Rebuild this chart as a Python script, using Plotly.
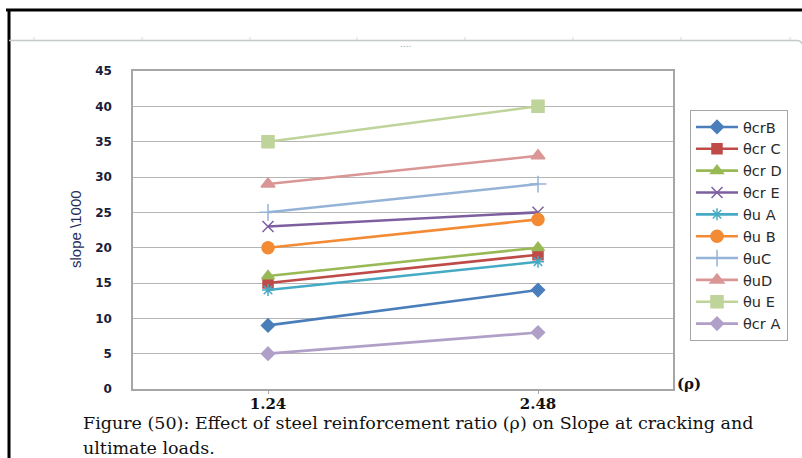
import plotly.graph_objects as go

# Reinforcement ratio categories on the x axis
rho_labels = ["1.24", "2.48"]

# Slope values (per 1000) at cracking (θcr) and ultimate (θu) loads
theta_cr_B = [9, 14]
theta_cr_C = [15, 19]
theta_cr_D = [16, 20]
theta_cr_E = [23, 25]
theta_u_A = [14, 18]
theta_u_B = [20, 24]
theta_u_C = [25, 29]
theta_u_D = [29, 33]
theta_u_E = [35, 40]
theta_cr_A = [5, 8]

series_names = ["θcrB", "θcr C", "θcr D", "θcr E", "θu A",
                "θu B", "θuC", "θuD", "θu E", "θcr A"]
series_values = [theta_cr_B, theta_cr_C, theta_cr_D, theta_cr_E, theta_u_A,
                 theta_u_B, theta_u_C, theta_u_D, theta_u_E, theta_cr_A]
series_colors = ["#4A7EBB", "#BE4B48", "#98B954", "#7D5FA0", "#46AAC5",
                 "#F38A34", "#95B3D7", "#D99694", "#BFD49A", "#B0A0C8"]
series_symbols = ["diamond", "square", "triangle-up", "x-thin-open", "asterisk-open",
                  "circle", "cross-thin-open", "triangle-up", "square", "diamond"]
series_sizes = [10, 10, 11, 11, 10, 12, 12, 12, 12, 10]

W, H = 802, 458
L, R, T, B = 133, 673, 71, 389

SERIF = "DejaVu Serif, Liberation Serif, serif"


def px(x):
    return (x - L) / (R - L)


def py(y):
    return (B - y) / (B - T)


fig = go.Figure()
for name, vals, col, sym, sz in zip(series_names, series_values, series_colors,
                                      series_symbols, series_sizes):
    fig.add_trace(go.Scatter(
        x=rho_labels, y=vals, name=name, mode="lines+markers",
        line=dict(color=col, width=2.6),
        marker=dict(symbol=sym, size=sz, color=col,
                    line=dict(color=col, width=1.5)),
    ))

fig.update_layout(
    width=W, height=H,
    margin=dict(l=L, r=W - R, t=T, b=H - B),
    paper_bgcolor="white", plot_bgcolor="white",
    showlegend=True,
    legend=dict(
        x=px(690), y=py(110), xanchor="left", yanchor="top",
        bordercolor="#A6A6A6", borderwidth=1, bgcolor="white",
        font=dict(family="DejaVu Sans, Verdana, sans-serif", size=14.5, color="#2a2a2a"),
        tracegroupgap=0, itemwidth=42,
    ),
    xaxis=dict(
        type="category", range=[-0.5, 1.5],
        showgrid=False, showline=True, linecolor="#A6A6A6", linewidth=1.5,
        mirror=True, ticks="outside", ticklen=3, tickcolor="#A6A6A6",
        ticklabelstandoff=-3,
        tickfont=dict(family=SERIF, size=15, color="#111111", weight="bold"),
        zeroline=False,
    ),
    yaxis=dict(
        range=[0, 45], dtick=5, tick0=0,
        showgrid=True, gridcolor="#B5B5B5", gridwidth=1.3,
        showline=True, linecolor="#A6A6A6", linewidth=1.5, mirror=True,
        ticks="", ticklabelstandoff=17,
        tickfont=dict(family="DejaVu Sans, Verdana, sans-serif", size=12,
                      color="#1c1c3a", weight="bold"),
        zeroline=False,
    ),
)

# Y axis title, placed beside the tick labels
fig.add_annotation(text="slope \\1000", xref="paper", yref="paper",
                   x=px(75), y=py(229), textangle=-90, showarrow=False,
                   xanchor="center", yanchor="middle",
                   font=dict(family="Liberation Sans Narrow, Arial Narrow, Liberation Sans, sans-serif",
                             size=15, color="#1F2D5A"))

# Page frame and ruler line
fig.add_shape(type="line", xref="paper", yref="paper",
              x0=px(6), x1=px(802), y0=py(10), y1=py(10),
              line=dict(color="black", width=3))
fig.add_shape(type="line", xref="paper", yref="paper",
              x0=px(9), x1=px(9), y0=py(10), y1=py(458),
              line=dict(color="black", width=3))
fig.add_shape(type="line", xref="paper", yref="paper",
              x0=px(9), x1=px(797), y0=py(40.5), y1=py(40.5),
              line=dict(color="#C4C9C9", width=1.5))
for tx in [34, 142, 250, 357, 465, 573, 681, 790]:
    fig.add_shape(type="line", xref="paper", yref="paper",
                  x0=px(tx), x1=px(tx), y0=py(40), y1=py(37),
                  line=dict(color="#D5DADA", width=1))
fig.add_shape(type="path", xref="paper", yref="paper",
              path=f"M {px(797)},{py(40.5)} Q {px(801)},{py(40.5)} {px(803)},{py(45)}",
              line=dict(color="#C4C9C9", width=1.5))
fig.add_annotation(text="....", xref="paper", yref="paper",
                   x=px(405), y=py(37), showarrow=False,
                   font=dict(size=9, color="#9AA0A0", family="DejaVu Sans"))

# Axis unit label and caption
fig.add_annotation(text="<b>(ρ)</b>", xref="paper", yref="paper",
                   x=px(675), y=py(384), xanchor="left", yanchor="middle",
                   showarrow=False,
                   font=dict(family=SERIF, size=15, color="#111122"))
fig.add_annotation(text="Figure (50): Effect of steel reinforcement ratio (ρ) on Slope at cracking and",
                   xref="paper", yref="paper", x=px(81), y=py(423),
                   xanchor="left", yanchor="middle", showarrow=False,
                   font=dict(family=SERIF, size=17.5, color="#111111"))
fig.add_annotation(text="ultimate loads.",
                   xref="paper", yref="paper", x=px(81), y=py(448),
                   xanchor="left", yanchor="middle", showarrow=False,
                   font=dict(family=SERIF, size=17.5, color="#111111"))

fig.write_html("out.html")
